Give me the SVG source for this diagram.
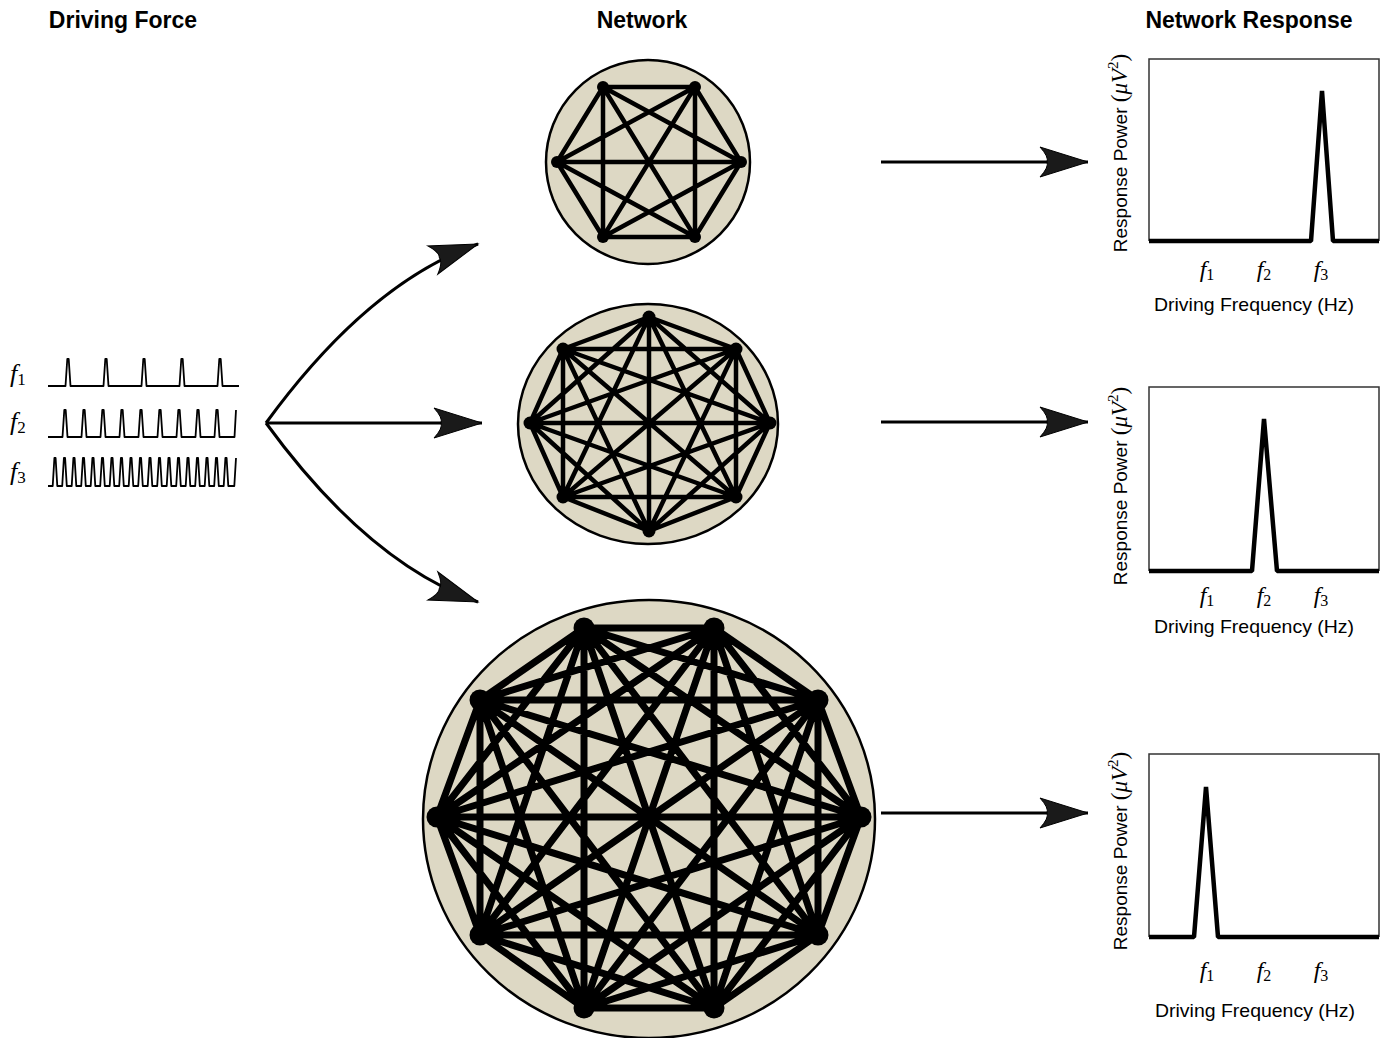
<svg xmlns="http://www.w3.org/2000/svg" width="1383" height="1038" viewBox="0 0 1383 1038">
<style>
.title{font-family:"Liberation Sans",Arial,sans-serif;font-weight:bold;font-size:23px;fill:#000;text-anchor:middle}
.ax{font-family:"Liberation Sans",Arial,sans-serif;font-size:18.5px;fill:#000}
.yl{font-family:"Liberation Sans",Arial,sans-serif;font-size:19px;fill:#000}
.mi{font-family:"Liberation Serif","Times New Roman",serif;font-style:italic;fill:#000}
.mr{font-family:"Liberation Serif","Times New Roman",serif;fill:#000}
.sig{fill:none;stroke:#000;stroke-width:1.8;stroke-linejoin:round}
.disk{fill:#ddd8c4;stroke:#000;stroke-width:2.5}
.edge{fill:none;stroke:#000;stroke-linecap:round}
.box{fill:none;stroke:#333;stroke-width:1.5}
.peak{fill:none;stroke:#000;stroke-width:4.5;stroke-linejoin:bevel}
.conn{fill:none;stroke:#000;stroke-width:3}
</style>
<defs>
<marker id="ah" markerUnits="userSpaceOnUse" markerWidth="60" markerHeight="40" viewBox="-52 -20 60 40" refX="0" refY="0" orient="auto">
<path d="M0,0 L-48,-15 Q-39,-5 -41,0 Q-39,5 -48,15 Z" fill="#1a1a1a" stroke="#000" stroke-width="1"/>
</marker>
</defs>
<rect width="1383" height="1038" fill="#fff"/>

<text class="title" x="123" y="28">Driving Force</text>
<text class="title" x="642" y="28">Network</text>
<text class="title" x="1249" y="28">Network Response</text>

<g id="driving-force">
<text x="10" y="382"><tspan class="mi" font-size="26">f</tspan><tspan class="mr" font-size="17" dy="3">1</tspan></text>
<text x="10" y="430"><tspan class="mi" font-size="26">f</tspan><tspan class="mr" font-size="17" dy="3">2</tspan></text>
<text x="10" y="480"><tspan class="mi" font-size="26">f</tspan><tspan class="mr" font-size="17" dy="3">3</tspan></text>
<path class="sig" d="M48,386 H65.5 L67.3,359 L68.7,359 L70.5,386 H103.5 L105.3,359 L106.7,359 L108.5,386 H141.5 L143.3,359 L144.7,359 L146.5,386 H179.5 L181.3,359 L182.7,359 L184.5,386 H217.5 L219.3,359 L220.7,359 L222.5,386 H239"/>
<path class="sig" d="M48,437 H62.5 L64.3,410 L65.7,410 L67.5,437 H81.5 L83.3,410 L84.7,410 L86.5,437 H100.5 L102.3,410 L103.7,410 L105.5,437 H119.5 L121.3,410 L122.7,410 L124.5,437 H138.5 L140.3,410 L141.7,410 L143.5,437 H157.5 L159.3,410 L160.7,410 L162.5,437 H176.5 L178.3,410 L179.7,410 L181.5,437 H195.5 L197.3,410 L198.7,410 L200.5,437 H214.5 L216.3,410 L217.7,410 L219.5,437 H234.5 L236,410"/>
<path class="sig" d="M48,486 L52.7,486 L54.4,458 L55.6,458 L57.3,486 L62.2,486 L63.9,458 L65.1,458 L66.8,486 L71.7,486 L73.4,458 L74.6,458 L76.3,486 L81.2,486 L82.9,458 L84.1,458 L85.8,486 L90.7,486 L92.4,458 L93.6,458 L95.3,486 L100.2,486 L101.9,458 L103.1,458 L104.8,486 L109.7,486 L111.4,458 L112.6,458 L114.3,486 L119.2,486 L120.9,458 L122.1,458 L123.8,486 L128.7,486 L130.4,458 L131.6,458 L133.3,486 L138.2,486 L139.9,458 L141.1,458 L142.8,486 L147.7,486 L149.4,458 L150.6,458 L152.3,486 L157.2,486 L158.9,458 L160.1,458 L161.8,486 L166.7,486 L168.4,458 L169.6,458 L171.3,486 L176.2,486 L177.9,458 L179.1,458 L180.8,486 L185.7,486 L187.4,458 L188.6,458 L190.3,486 L195.2,486 L196.9,458 L198.1,458 L199.8,486 L204.7,486 L206.4,458 L207.6,458 L209.3,486 L214.2,486 L215.9,458 L217.1,458 L218.8,486 L223.7,486 L225.4,458 L226.6,458 L228.3,486 L234.3,486 L236,458"/>
</g>

<g id="network-small">
<circle class="disk" cx="648" cy="162" r="102"/>
<path class="edge" stroke-width="4.5" d="M603,87L695,87 M603,87L741,162 M603,87L695,237 M603,87L603,237 M603,87L557,162 M695,87L741,162 M695,87L695,237 M695,87L603,237 M695,87L557,162 M741,162L695,237 M741,162L603,237 M741,162L557,162 M695,237L603,237 M695,237L557,162 M603,237L557,162"/>
<g fill="#000"><circle cx="603" cy="87" r="6"/><circle cx="695" cy="87" r="6"/><circle cx="741" cy="162" r="6"/><circle cx="695" cy="237" r="6"/><circle cx="603" cy="237" r="6"/><circle cx="557" cy="162" r="6"/></g>
</g>

<g id="network-medium">
<ellipse class="disk" cx="648" cy="424" rx="130" ry="120"/>
<path class="edge" stroke-width="4.5" d="M649,317L736,349 M649,317L770,423 M649,317L736,497 M649,317L649,531 M649,317L563,497 M649,317L530,423 M649,317L563,349 M736,349L770,423 M736,349L736,497 M736,349L649,531 M736,349L563,497 M736,349L530,423 M736,349L563,349 M770,423L736,497 M770,423L649,531 M770,423L563,497 M770,423L530,423 M770,423L563,349 M736,497L649,531 M736,497L563,497 M736,497L530,423 M736,497L563,349 M649,531L563,497 M649,531L530,423 M649,531L563,349 M563,497L530,423 M563,497L563,349 M530,423L563,349"/>
<g fill="#000"><circle cx="649" cy="317" r="6.5"/><circle cx="736" cy="349" r="6.5"/><circle cx="770" cy="423" r="6.5"/><circle cx="736" cy="497" r="6.5"/><circle cx="649" cy="531" r="6.5"/><circle cx="563" cy="497" r="6.5"/><circle cx="530" cy="423" r="6.5"/><circle cx="563" cy="349" r="6.5"/></g>
</g>

<g id="network-large">
<ellipse class="disk" cx="649" cy="819" rx="226" ry="219"/>
<path class="edge" stroke-width="7" d="M584,628L714,628 M584,628L818,700 M584,628L861,817 M584,628L818,935 M584,628L714,1008 M584,628L584,1008 M584,628L480,935 M584,628L437,817 M584,628L480,700 M714,628L818,700 M714,628L861,817 M714,628L818,935 M714,628L714,1008 M714,628L584,1008 M714,628L480,935 M714,628L437,817 M714,628L480,700 M818,700L861,817 M818,700L818,935 M818,700L714,1008 M818,700L584,1008 M818,700L480,935 M818,700L437,817 M818,700L480,700 M861,817L818,935 M861,817L714,1008 M861,817L584,1008 M861,817L480,935 M861,817L437,817 M861,817L480,700 M818,935L714,1008 M818,935L584,1008 M818,935L480,935 M818,935L437,817 M818,935L480,700 M714,1008L584,1008 M714,1008L480,935 M714,1008L437,817 M714,1008L480,700 M584,1008L480,935 M584,1008L437,817 M584,1008L480,700 M480,935L437,817 M480,935L480,700 M437,817L480,700"/>
<g fill="#000"><circle cx="584" cy="628" r="10.5"/><circle cx="714" cy="628" r="10.5"/><circle cx="818" cy="700" r="10.5"/><circle cx="861" cy="817" r="10.5"/><circle cx="818" cy="935" r="10.5"/><circle cx="714" cy="1008" r="10.5"/><circle cx="584" cy="1008" r="10.5"/><circle cx="480" cy="935" r="10.5"/><circle cx="437" cy="817" r="10.5"/><circle cx="480" cy="700" r="10.5"/></g>
</g>

<g id="response-1">
<path class="box" d="M1149,241 V59 H1379 V241"/>
<polyline class="peak" points="1149,241 1311,241 1322,91 1333,241 1379,241"/>
<text transform="translate(1127,153) rotate(-90)" text-anchor="middle"><tspan class="yl">Response Power </tspan><tspan class="mr" font-size="23">(</tspan><tspan class="mi" font-size="23">μV</tspan><tspan class="mr" font-size="15" dy="-9">2</tspan><tspan class="mr" font-size="23" dy="9">)</tspan></text>
<text x="1207" y="277" text-anchor="middle"><tspan class="mi" font-size="24">f</tspan><tspan class="mr" font-size="16" dy="3">1</tspan></text>
<text x="1264" y="277" text-anchor="middle"><tspan class="mi" font-size="24">f</tspan><tspan class="mr" font-size="16" dy="3">2</tspan></text>
<text x="1321" y="277" text-anchor="middle"><tspan class="mi" font-size="24">f</tspan><tspan class="mr" font-size="16" dy="3">3</tspan></text>
<text class="ax" x="1254" y="311" text-anchor="middle" textLength="200" lengthAdjust="spacingAndGlyphs">Driving Frequency (Hz)</text>
</g>

<g id="response-2">
<path class="box" d="M1149,571 V387 H1379 V571"/>
<polyline class="peak" points="1149,571 1252,571 1264,419 1277,571 1379,571"/>
<text transform="translate(1127,486) rotate(-90)" text-anchor="middle"><tspan class="yl">Response Power </tspan><tspan class="mr" font-size="23">(</tspan><tspan class="mi" font-size="23">μV</tspan><tspan class="mr" font-size="15" dy="-9">2</tspan><tspan class="mr" font-size="23" dy="9">)</tspan></text>
<text x="1207" y="603" text-anchor="middle"><tspan class="mi" font-size="24">f</tspan><tspan class="mr" font-size="16" dy="3">1</tspan></text>
<text x="1264" y="603" text-anchor="middle"><tspan class="mi" font-size="24">f</tspan><tspan class="mr" font-size="16" dy="3">2</tspan></text>
<text x="1321" y="603" text-anchor="middle"><tspan class="mi" font-size="24">f</tspan><tspan class="mr" font-size="16" dy="3">3</tspan></text>
<text class="ax" x="1254" y="633" text-anchor="middle" textLength="200" lengthAdjust="spacingAndGlyphs">Driving Frequency (Hz)</text>
</g>

<g id="response-3">
<path class="box" d="M1149,937 V754 H1379 V937"/>
<polyline class="peak" points="1149,937 1194,937 1206,787 1218,937 1379,937"/>
<text transform="translate(1127,851) rotate(-90)" text-anchor="middle"><tspan class="yl">Response Power </tspan><tspan class="mr" font-size="23">(</tspan><tspan class="mi" font-size="23">μV</tspan><tspan class="mr" font-size="15" dy="-9">2</tspan><tspan class="mr" font-size="23" dy="9">)</tspan></text>
<text x="1207" y="978" text-anchor="middle"><tspan class="mi" font-size="24">f</tspan><tspan class="mr" font-size="16" dy="3">1</tspan></text>
<text x="1264" y="978" text-anchor="middle"><tspan class="mi" font-size="24">f</tspan><tspan class="mr" font-size="16" dy="3">2</tspan></text>
<text x="1321" y="978" text-anchor="middle"><tspan class="mi" font-size="24">f</tspan><tspan class="mr" font-size="16" dy="3">3</tspan></text>
<text class="ax" x="1255" y="1017" text-anchor="middle" textLength="200" lengthAdjust="spacingAndGlyphs">Driving Frequency (Hz)</text>
</g>

<g id="connectors">
<path class="conn" d="M266,423 Q368,283 478,244" marker-end="url(#ah)"/>
<path class="conn" d="M266,423 L482,423" marker-end="url(#ah)"/>
<path class="conn" d="M266,423 Q368,563 478,602" marker-end="url(#ah)"/>
<path class="conn" d="M881,162 L1088,162" marker-end="url(#ah)"/>
<path class="conn" d="M881,422 L1088,422" marker-end="url(#ah)"/>
<path class="conn" d="M881,813 L1088,813" marker-end="url(#ah)"/>
</g>
</svg>
